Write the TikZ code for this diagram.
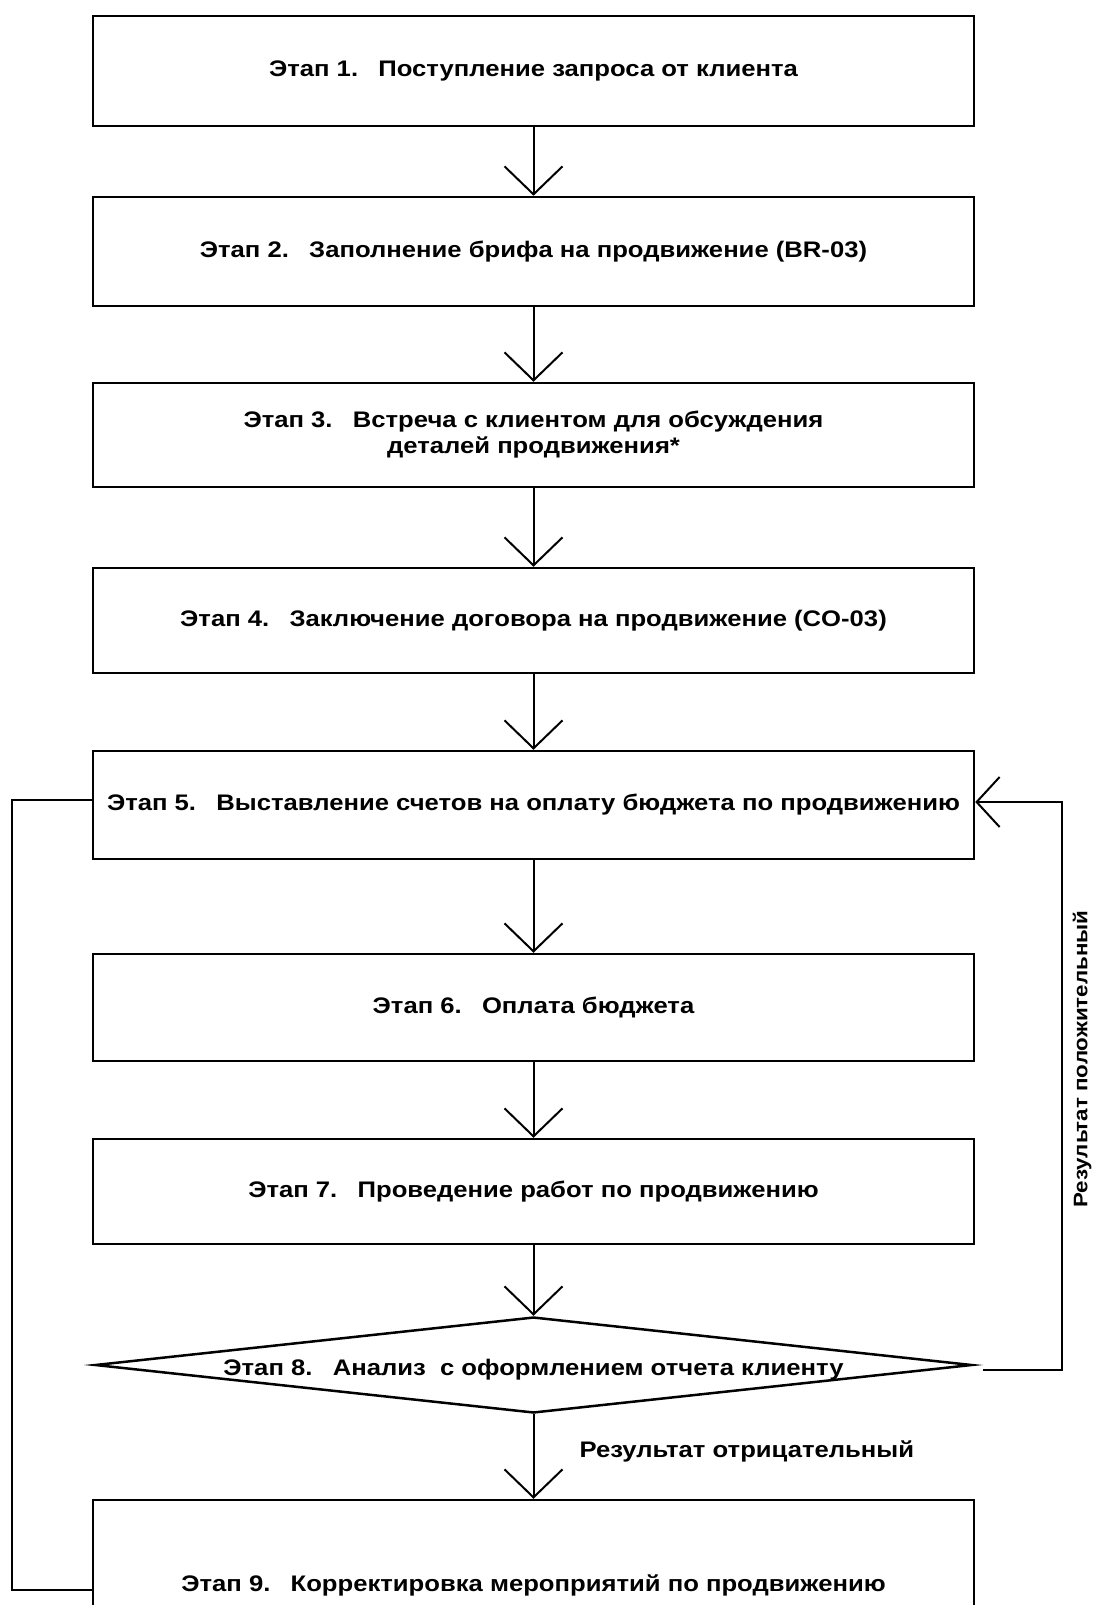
\documentclass[tikz,border=0pt]{standalone}
\usepackage{fontspec}
\setmainfont{Liberation Sans}[FakeStretch=1.14]
\usetikzlibrary{arrows.meta,shapes.geometric}
\begin{document}
\begin{tikzpicture}[x=1pt,y=-1pt,
  font=\fontsize{22.5}{26}\selectfont\bfseries,
  stepbox/.style={draw,line width=2.5pt,minimum width=881pt,inner sep=0pt,align=center},
  arr/.style={line width=2pt,-{Straight Barb[length=28pt,width=58pt,line width=2pt]}},
  sidearr/.style={line width=2.5pt,-{Straight Barb[length=23pt,width=50pt,line width=2pt]}},
  loopline/.style={line width=2.5pt}]
\useasboundingbox (0,0) rectangle (1095,1605);
\clip (0,0) rectangle (1095,1605);
\node[stepbox,minimum height=110pt] (b1) at (533.5,71) {Этап 1.\hspace{0.9em}Поступление запроса от клиента};
\node[stepbox,minimum height=109pt] (b2) at (533.5,251.5) {Этап 2.\hspace{0.9em}Заполнение брифа на продвижение (BR-03)};
\node[stepbox,minimum height=104pt] (b3) at (533.5,435) {Этап 3.\hspace{0.9em}Встреча с клиентом для обсуждения\\деталей продвижения*};
\node[stepbox,minimum height=105pt] (b4) at (533.5,620.5) {Этап 4.\hspace{0.9em}Заключение договора на продвижение (CO-03)};
\node[stepbox,minimum height=108pt] (b5) at (533.5,805) {Этап 5.\hspace{0.9em}Выставление счетов на оплату бюджета по продвижению};
\node[stepbox,minimum height=107pt] (b6) at (533.5,1007.5) {Этап 6.\hspace{0.9em}Оплата бюджета};
\node[stepbox,minimum height=105pt] (b7) at (533.5,1191.5) {Этап 7.\hspace{0.9em}Проведение работ по продвижению};
\node[draw,diamond,line width=2.5pt,inner sep=0pt,minimum width=877pt,minimum height=96pt] (d8) at (533.5,1365) {};
\node (t8) at (533.5,1370) {Этап 8.\hspace{0.9em}Анализ\ \ с оформлением отчета клиенту};
\node[stepbox,minimum height=170pt] (b9) at (533.5,1585) {Этап 9.\hspace{0.9em}Корректировка мероприятий по продвижению};
\draw[arr] (b1.south) -- (b2.north);
\draw[arr] (b2.south) -- (b3.north);
\draw[arr] (b3.south) -- (b4.north);
\draw[arr] (b4.south) -- (b5.north);
\draw[arr] (b5.south) -- (b6.north);
\draw[arr] (b6.south) -- (b7.north);
\draw[arr] (b7.south) -- (d8.north);
\draw[arr] (d8.south) -- (b9.north);
\node[anchor=west] (neg) at (576,1451) {Результат отрицательный};
\node[rotate=90,font=\fontsize{19.6}{23}\selectfont\bfseries] (pos) at (1082,1059) {Результат положительный};
\coordinate (r0) at (983,1370);
\coordinate (r1) at (1062,1370);
\coordinate (r2) at (1062,802);
\draw[sidearr] (r0) -- (r1) -- (r2) -- (b5.east |- r2);
\coordinate (l1) at (12,800);
\coordinate (l2) at (12,1590);
\draw[loopline] (b5.west |- l1) -- (l1) -- (l2) -- (b9.west |- l2);
\end{tikzpicture}
\end{document}
